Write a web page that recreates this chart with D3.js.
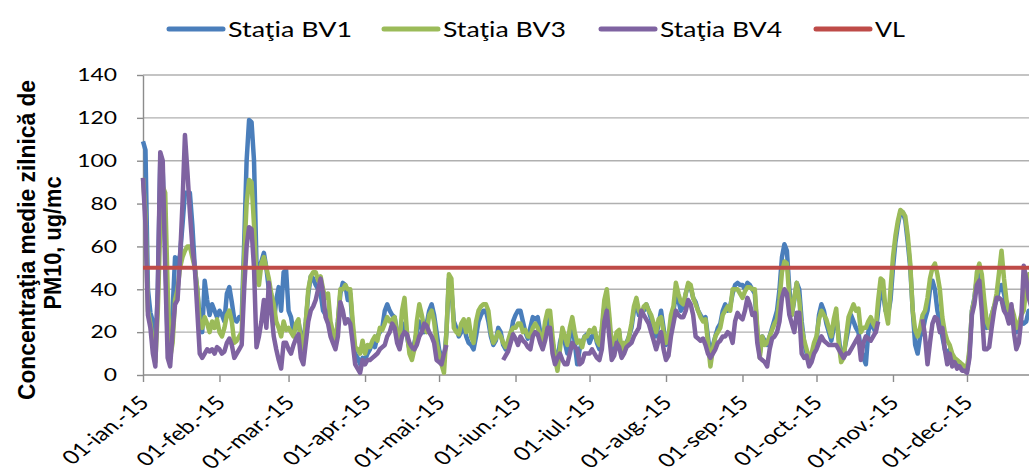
<!DOCTYPE html>
<html>
<head>
<meta charset="utf-8">
<script src="https://cdnjs.cloudflare.com/ajax/libs/d3/7.8.5/d3.min.js"></script>
<style>
body { margin: 0; background: #fff; }
</style>
</head>
<body>
<script>
// daily values, 1 jan 2015 .. 31 dec 2015, one row per month
var bv1 = [
  109,105,40,29,25,10,40,100,95,60,15,8,30,55,52,56,70,85,85,85,70,50,40,26,20,44,35,28,33,30,27,
  30,28,25,38,41,34,26,25,27,26,61,100,119,118,100,52,50,53,57,50,40,30,24,35,41,30,48,49,
  30,27,20,22,25,18,15,25,38,46,45,42,40,38,30,28,30,22,18,15,25,38,43,42,35,38,22,10,8,5,8,
  7,10,12,15,13,18,20,22,30,33,30,28,27,20,15,20,24,18,12,10,15,20,25,22,20,24,30,33,28,20,
  12,8,6,20,45,40,25,22,18,20,24,18,15,14,12,18,25,28,30,30,25,18,14,16,22,20,14,12,15,18,25,
  28,30,30,25,20,17,22,27,26,27,20,17,20,28,25,15,10,6,15,20,15,10,18,25,15,5,12,15,18,19,
  15,18,20,15,12,20,32,36,25,10,12,18,20,10,14,15,18,22,30,34,28,30,30,33,30,26,22,18,24,30,22,
  14,16,24,30,37,35,30,32,38,42,41,36,34,30,28,26,27,18,8,14,18,22,24,30,33,30,32,38,42,43,42,
  42,40,43,42,40,38,20,10,18,16,14,18,22,26,30,40,55,61,58,40,28,35,43,40,25,15,10,5,8,12,
  16,28,33,30,24,20,16,22,28,18,8,10,16,22,28,25,22,20,12,8,5,20,26,22,20,30,40,38,30,28,35,
  50,62,70,76,76,72,62,50,30,14,10,18,20,26,30,40,44,40,30,25,18,12,10,12,8,6,5,6,4,3,
  2,10,30,36,45,48,40,28,22,24,28,32,35,40,42,38,32,28,30,25,20,22,25,24,25,30,30,28,26,24,22
];
var bv3 = [
  92,75,30,24,15,6,30,70,88,85,40,8,15,35,40,50,55,58,60,60,55,50,40,24,22,27,24,20,25,22,26,
  20,18,22,28,30,25,15,16,18,20,55,80,91,90,70,45,42,52,55,50,45,38,33,25,22,18,25,21,
  22,20,18,24,26,15,12,25,40,46,48,48,44,46,40,36,38,25,20,15,25,40,40,42,40,40,25,13,12,10,16,
  10,14,13,16,18,16,22,21,24,27,25,26,27,18,15,30,36,20,10,7,12,25,33,28,22,20,28,30,25,15,
  10,5,1,20,47,45,22,20,19,24,26,20,26,18,15,25,30,32,33,33,30,20,15,17,20,18,15,13,16,20,22,
  22,24,24,20,21,18,18,22,24,22,18,16,25,30,30,18,8,2,12,22,18,14,22,27,20,15,16,13,18,18,
  21,20,22,16,14,22,35,40,28,14,15,20,21,10,15,14,18,24,32,36,30,28,32,33,30,28,24,20,26,27,20,
  15,18,28,32,43,38,34,33,38,43,42,36,33,30,27,25,26,15,4,12,18,20,22,28,30,32,30,40,40,40,38,
  36,39,41,41,40,40,22,8,18,14,15,18,21,24,26,35,48,53,52,36,28,36,43,35,22,16,12,7,10,15,
  18,26,30,28,26,22,18,26,31,15,6,8,18,27,30,33,30,31,20,22,22,25,27,24,22,35,45,44,30,24,40,
  55,65,72,77,76,74,65,52,30,21,18,22,28,30,36,45,50,52,47,40,27,20,16,14,10,8,7,6,5,4,
  3,12,30,35,48,52,47,35,25,22,28,32,38,48,58,45,35,30,32,28,22,24,28,30,40,47,42,36,32,30,28
];
var bv4 = [
  92,70,28,22,10,4,40,104,100,50,8,4,20,33,35,54,80,112,95,76,60,50,30,10,8,10,12,11,12,10,13,
  12,10,11,15,17,14,8,10,12,14,40,60,69,68,50,13,18,25,35,22,43,30,18,12,7,3,15,15,
  12,10,14,17,19,8,5,15,25,30,32,35,40,45,38,27,24,18,15,12,18,34,30,24,26,24,15,5,3,1,7,
  5,7,7,8,9,10,12,13,14,18,20,24,22,15,12,18,20,19,15,13,12,14,18,20,24,23,20,18,15,7,
  6,5,10,14,null,null,null,null,null,null,null,null,null,null,null,null,null,null,null,null,null,null,null,null,null,null,7,9,11,15,19,
  17,14,18,16,15,13,12,18,20,19,15,12,16,22,22,10,5,8,10,7,5,5,10,15,13,12,5,6,10,10,
  10,12,10,8,7,12,25,30,18,7,9,15,13,8,10,13,14,15,18,20,22,30,28,26,24,20,16,12,16,20,12,
  7,9,18,24,30,28,27,27,30,35,33,28,18,17,16,17,14,10,8,10,12,15,16,18,18,20,19,15,25,29,27,
  26,30,36,33,28,29,15,8,7,6,4,12,17,18,20,25,36,40,38,28,24,20,29,29,10,8,9,4,6,10,
  12,15,18,16,15,14,14,14,14,12,10,8,10,10,12,14,16,18,7,15,18,17,16,18,20,25,null,null,null,null,null,
  null,null,null,null,null,null,null,null,null,null,null,null,26,18,5,15,24,27,26,20,22,12,5,10,4,6,3,4,2,2,
  1,8,28,33,42,44,30,12,12,13,22,30,36,36,35,30,28,24,33,20,12,15,26,51,45,36,32,30,28,26,24
];
var vlValue = 50;

var seriesNames = ["Staţia BV1", "Staţia BV3", "Staţia BV4", "VL"];
var seriesColors = ["#4a7ebb", "#9bbb59", "#7f63a1", "#be4b48"];
var monthLabels = ["01-ian.-15", "01-feb.-15", "01-mar.-15", "01-apr.-15", "01-mai.-15", "01-iun.-15",
                   "01-iul.-15", "01-aug.-15", "01-sep.-15", "01-oct.-15", "01-nov.-15", "01-dec.-15"];
var yTicks = [0, 20, 40, 60, 80, 100, 120, 140];

var w = 1029, h = 473;
var sx = 1.27; // the picture is a little wider than tall, text is stretched too

var startDate = new Date(2015, 0, 1);
var dates = d3.range(bv1.length).map(function(i) { return d3.timeDay.offset(startDate, i); });
var monthDates = d3.range(12).map(function(m) { return new Date(2015, m, 1); });

var x = d3.scaleTime()
    .domain([startDate, new Date(2015, 11, 31)])
    .range([143, 1041]);
var y = d3.scaleLinear()
    .domain([0, 140])
    .range([375, 75]);

var svg = d3.select("body").append("svg")
    .attr("width", w).attr("height", h);

// grid
svg.append("g").selectAll("line")
    .data(yTicks.slice(1))
    .enter().append("line")
    .attr("x1", 143).attr("x2", w)
    .attr("y1", function(d) { return y(d); })
    .attr("y2", function(d) { return y(d); })
    .attr("stroke", "#b0b0b0").attr("stroke-width", 1.4);

// axes
var yAxis = d3.axisLeft(y).tickValues(yTicks).tickSize(6).tickSizeOuter(0);
var gy = svg.append("g").attr("transform", "translate(143,0)").call(yAxis);
gy.select(".domain").attr("stroke", "#8c8c8c").attr("stroke-width", 1.4);
gy.selectAll(".tick line").attr("stroke", "#8c8c8c").attr("stroke-width", 1.4);
gy.selectAll(".tick text")
    .attr("x", -26 / sx)
    .attr("transform", "scale(" + sx + ",1)")
    .style("font-family", "Lato, 'Open Sans', sans-serif")
    .style("font-size", "18px")
    .attr("fill", "#000");

var xAxis = d3.axisBottom(x).tickValues(monthDates)
    .tickFormat(function(d, i) { return monthLabels[i]; })
    .tickSize(7).tickSizeOuter(0);
var gx = svg.append("g").attr("transform", "translate(0,375)").call(xAxis);
gx.select(".domain").attr("d", "M143,0H" + w).attr("stroke", "#8c8c8c").attr("stroke-width", 1.4);
gx.selectAll(".tick line").attr("stroke", "#8c8c8c").attr("stroke-width", 1.4);
gx.selectAll(".tick text")
    .attr("x", 0).attr("y", 0).attr("dy", 0)
    .attr("text-anchor", "end")
    .attr("transform", "translate(7,29) scale(" + sx + ",1) rotate(-45)")
    .style("font-family", "Lato, 'Open Sans', sans-serif")
    .style("font-size", "19px")
    .attr("fill", "#000");

// y title
var titleLines = [
  { text: "Concentraţia medie zilnică de", cx: 27, cy: 240, len: 320 },
  { text: "PM10, ug/mc", cx: 53, cy: 243, len: 133 }
];
svg.selectAll(".ytitle")
    .data(titleLines)
    .enter().append("text")
    .attr("class", "ytitle")
    .attr("transform", function(d) { return "translate(" + d.cx + "," + d.cy + ") scale(" + sx + ",1) rotate(-90)"; })
    .attr("text-anchor", "middle")
    .attr("dy", "0.35em")
    .attr("textLength", function(d) { return d.len; })
    .attr("lengthAdjust", "spacingAndGlyphs")
    .style("font-family", "'Liberation Sans', Arial, sans-serif")
    .style("font-weight", "bold")
    .style("font-size", "19px")
    .text(function(d) { return d.text; });

// series lines
var line = d3.line()
    .defined(function(d) { return d.v != null; })
    .x(function(d) { return x(d.date); })
    .y(function(d) { return y(d.v); });

[bv1, bv3, bv4].forEach(function(values, k) {
    var pts = values.map(function(v, i) { return { date: dates[i], v: v }; });
    svg.append("path")
        .datum(pts)
        .attr("d", line)
        .attr("fill", "none")
        .attr("stroke", seriesColors[k])
        .attr("stroke-width", 4.5)
        .attr("stroke-linejoin", "round");
});

// limit value
svg.append("path")
    .datum([{ date: dates[0], v: vlValue }, { date: dates[dates.length - 1], v: vlValue }])
    .attr("d", line)
    .attr("fill", "none")
    .attr("stroke", seriesColors[3])
    .attr("stroke-width", 4);

// legend
var legendX = [169, 384, 601, 816];
var legendLen = [124, 123, 122, 30];
var lg = svg.append("g").selectAll("g")
    .data(seriesNames)
    .enter().append("g")
    .attr("transform", function(d, i) { return "translate(" + legendX[i] + ",29)"; });
lg.append("line")
    .attr("x1", 0).attr("x2", 54)
    .attr("stroke", function(d, i) { return seriesColors[i]; })
    .attr("stroke-width", 5)
    .attr("stroke-linecap", "round");
lg.append("text")
    .attr("transform", "translate(59,0) scale(" + sx + ",1)")
    .attr("dy", "0.36em")
    .attr("textLength", function(d, i) { return legendLen[i] / sx; })
    .attr("lengthAdjust", "spacingAndGlyphs")
    .style("font-family", "Lato, 'Open Sans', sans-serif")
    .style("font-size", "22px")
    .text(function(d) { return d; });
</script>
</body>
</html>
